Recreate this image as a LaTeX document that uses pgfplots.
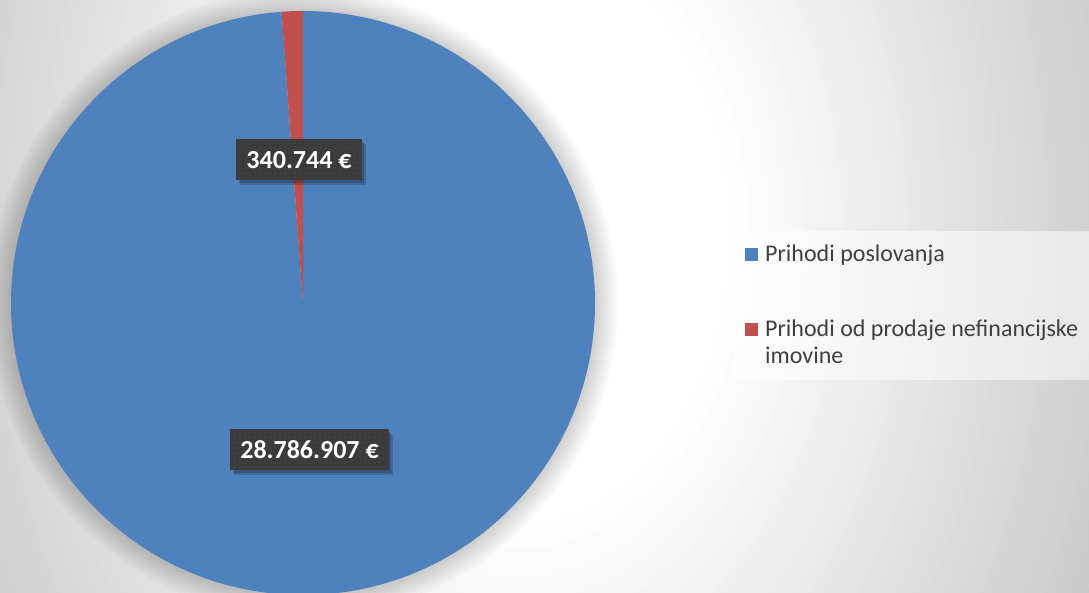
\documentclass[border=0pt]{standalone}
\usepackage{pgfplots}
\pgfplotsset{compat=1.18}
\usepackage{pgfplotstable}
\usepackage{fontspec}
\setmainfont{Carlito}
\usetikzlibrary{shadows,patterns.meta}

\definecolor{pieblue}{HTML}{4F81BD}
\definecolor{piered}{HTML}{C0504D}
\definecolor{lblgray}{HTML}{3B3B3B}
\definecolor{lbldot}{HTML}{525252}
\definecolor{legtext}{HTML}{404040}
\definecolor{bgg}{HTML}{C6C6C6}

\pgfplotstableread{
slice value
PrihodiPoslovanja 28786907
PrihodiNefinancijske 340744
}\piedata

\pgfplotstablegetelem{0}{value}\of\piedata\edef\va{\pgfplotsretval}
\pgfplotstablegetelem{1}{value}\of\piedata\edef\vb{\pgfplotsretval}
\edef\angA{\fpeval{360*\va/(\va+\vb)}}
\edef\angB{\fpeval{360*\vb/(\va+\vb)}}
\edef\stB{\fpeval{90-\angA}}

\tikzset{lblbox/.style={
  preaction={fill=black,opacity=0.18,transform canvas={xshift=4pt,yshift=-4.5pt}},
  preaction={fill=black,opacity=0.18,transform canvas={xshift=2.5pt,yshift=-3pt}},
  preaction={fill=lblgray}, pattern={Dots[distance=5pt,radius=0.7pt]}, pattern color=lbldot,
  text=white, font=\bfseries\fontsize{26}{30}\selectfont, inner xsep=10pt, inner ysep=0pt,
  minimum height=41pt}}

\begin{document}
\begin{tikzpicture}
\useasboundingbox (0pt,0pt) rectangle (1089pt,593pt);
\clip (0pt,0pt) rectangle (1089pt,593pt);
\fill[bgg] (0pt,0pt) rectangle (1089pt,593pt);
% background: elliptical gradient, white in the middle, grey towards the edges
\foreach \i in {0,...,48}{
  \pgfmathsetmacro{\rx}{660-\i*(450/48)}
  \pgfmathsetmacro{\ry}{920-\i*(630/48)}
  \pgfmathsetmacro{\mixv}{\i*100/48}
  \fill[white!\mixv!bgg] (520pt,360pt) ellipse (\rx pt and \ry pt);
}
% soft glow around the pie
\foreach \r in {293,295,...,315}{
  \fill[black,opacity=0.016] (303pt,290pt) circle (\r pt);
}
\begin{axis}[at={(0pt,0pt)}, anchor=south west, scale only axis,
  width=1089pt, height=593pt, xmin=0, xmax=1089, ymin=0, ymax=593,
  hide axis, clip=true]
\fill[pieblue] (axis cs:303,290) -- ++(90:292pt) arc[start angle=90, delta angle=-\angA, radius=292pt] -- cycle;
\fill[piered] (axis cs:303,290) -- ++(\stB:292pt) arc[start angle=\stB, delta angle=-\angB, radius=292pt] -- cycle;
\node[lblbox] at (axis cs:299,433) {340.744 €};
\node[lblbox] at (axis cs:309.5,143) {28.786.907 €};
% legend
\fill[white,opacity=0.5] (axis cs:733,213) rectangle (axis cs:1089,362);
\fill[pieblue] (axis cs:745,332) rectangle (axis cs:758,345);
\node[anchor=base west, inner sep=0pt, text=legtext, font=\fontsize{24}{27}\selectfont] at (axis cs:765,331) {Prihodi poslovanja};
\fill[piered] (axis cs:745,257) rectangle (axis cs:758,270);
\node[anchor=base west, inner sep=0pt, text=legtext, font=\fontsize{24}{27}\selectfont] at (axis cs:765,256) {Prihodi od prodaje nefinancijske};
\node[anchor=base west, inner sep=0pt, text=legtext, font=\fontsize{24}{27}\selectfont] at (axis cs:765,229) {imovine};
\end{axis}
\end{tikzpicture}
\end{document}
